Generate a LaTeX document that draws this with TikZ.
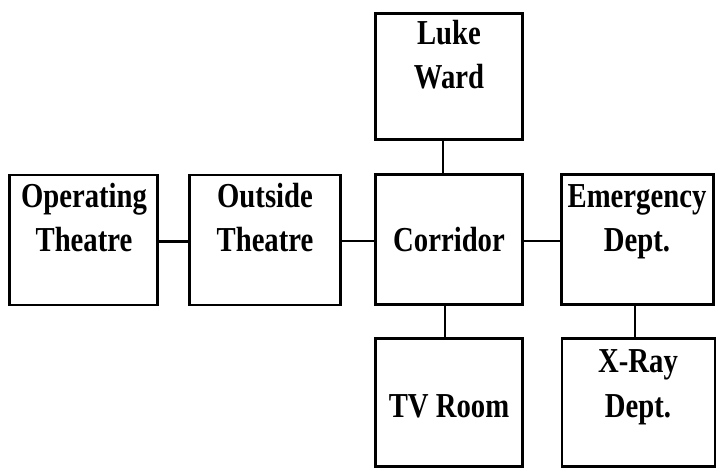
\documentclass[tikz,border=0pt]{standalone}
\usepackage{fontspec}
\newfontfamily\boxfont{Liberation Serif}[FakeStretch=0.82]
\begin{document}
\begin{tikzpicture}[x=1bp,y=-1bp,
  room/.style={draw,line width=2.6bp,inner sep=0pt},
  lbl/.style={anchor=base,inner sep=0pt,font=\boxfont\bfseries\fontsize{35bp}{44bp}\selectfont},
  link/.style={line width=2.6bp}]
\useasboundingbox (0,0) rectangle (718,474);
% rooms
\node[room,minimum width=147bp,minimum height=126bp] (luke) at (449,76.5) {};
\node[room,minimum width=148bp,minimum height=130bp] (op)   at (83.5,240) {};
\node[room,minimum width=151bp,minimum height=130bp] (out)  at (265,240) {};
\node[room,minimum width=147bp,minimum height=130bp] (corr) at (449,239.5) {};
\node[room,minimum width=152bp,minimum height=130bp] (emer) at (637.5,239.5) {};
\node[room,minimum width=147bp,minimum height=128bp] (tv)   at (449,402.5) {};
\node[room,minimum width=153bp,minimum height=128bp] (xray) at (638.5,402.5) {};
% labels
\node[lbl] (t1a) at (449,45) {Luke};
\node[lbl] (t1b) at (449,89) {Ward};
\node[lbl] (t2a) at (84,208) {Operating};
\node[lbl] (t2b) at (84,252) {Theatre};
\node[lbl] (t3a) at (265,208) {Outside};
\node[lbl] (t3b) at (265,252) {Theatre};
\node[lbl] (t4)  at (449,252) {Corridor};
\node[lbl] (t5a) at (637,208) {Emergency};
\node[lbl] (t5b) at (637,252) {Dept.};
\node[lbl] (t6)  at (449,417) {TV Room};
\node[lbl] (t7a) at (638,372) {X-Ray};
\node[lbl] (t7b) at (638,417) {Dept.};
% connectors
\draw[link] ([yshift=-1.5bp]op.east) -- ([yshift=-1.5bp]op.east -| out.west);
\draw[link] ([yshift=-1.5bp]corr.west -| out.east) -- ([yshift=-1.5bp]corr.west);
\draw[link] ([yshift=-1.5bp]corr.east) -- ([yshift=-1.5bp]corr.east -| emer.west);
\draw[link] ([xshift=-6bp]luke.south) -- ([xshift=-6bp]luke.south |- corr.north);
\draw[link] ([xshift=-4bp]corr.south) -- ([xshift=-4bp]corr.south |- tv.north);
\draw[link] ([xshift=-2.5bp]emer.south) -- ([xshift=-2.5bp]emer.south |- xray.north);
\end{tikzpicture}
\end{document}
